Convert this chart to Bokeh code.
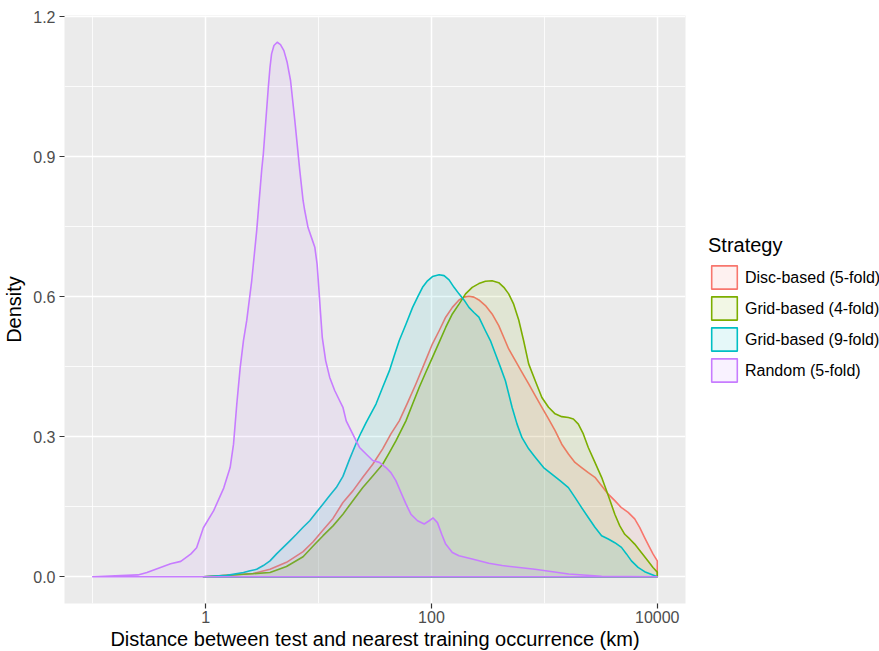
import numpy as np
from bokeh.plotting import figure
from bokeh.models import (Range1d, FixedTicker, PrintfTickFormatter, NumeralTickFormatter,
                          Legend, LegendItem)
from bokeh.embed import file_html
from bokeh.resources import INLINE

# ---- data (x = log10 of distance in km, y = density) ----
strategies = ["Disc-based (5-fold)", "Grid-based (4-fold)", "Grid-based (9-fold)", "Random (5-fold)"]
colors = ["#F8766D", "#7CAE00", "#00BFC4", "#C77CFF"]

disc_log10_km = [-0.02, 0.42, 0.57, 0.716, 0.863, 0.952, 1.04, 1.128, 1.216, 1.304, 1.392, 1.48, 1.568,
                 1.641, 1.715, 1.789, 1.862, 1.936, 2.009, 2.068, 2.126, 2.185, 2.244, 2.288, 2.332,
                 2.376, 2.42, 2.478, 2.537, 2.596, 2.64, 2.684, 2.743, 2.802, 2.861, 2.919, 2.978,
                 3.037, 3.095, 3.154, 3.213, 3.271, 3.33, 3.389, 3.448, 3.507, 3.566, 3.624, 3.683,
                 3.742, 3.80, 3.844, 3.888, 3.932, 3.962, 4.0]
disc_density = [0.0, 0.007, 0.016, 0.031, 0.054, 0.075, 0.100, 0.125, 0.159, 0.184, 0.213, 0.241, 0.274,
                0.306, 0.334, 0.373, 0.413, 0.456, 0.499, 0.527, 0.556, 0.577, 0.593, 0.599, 0.601,
                0.599, 0.593, 0.581, 0.563, 0.538, 0.513, 0.488, 0.463, 0.438, 0.413, 0.388, 0.363,
                0.338, 0.313, 0.284, 0.263, 0.245, 0.234, 0.223, 0.213, 0.195, 0.177, 0.163, 0.148,
                0.138, 0.124, 0.106, 0.084, 0.063, 0.049, 0.034]

grid4_log10_km = [-0.02, 0.57, 0.716, 0.863, 0.952, 1.04, 1.128, 1.216, 1.304, 1.392, 1.48, 1.568,
                  1.627, 1.685, 1.774, 1.833, 1.892, 1.95, 2.009, 2.068, 2.126, 2.185, 2.244, 2.302,
                  2.361, 2.42, 2.478, 2.537, 2.596, 2.641, 2.684, 2.728, 2.773, 2.817, 2.861, 2.919,
                  2.978, 3.037, 3.095, 3.154, 3.213, 3.257, 3.301, 3.345, 3.389, 3.448, 3.507, 3.566,
                  3.624, 3.668, 3.712, 3.756, 3.80, 3.859, 3.918, 3.962, 4.0]
grid4_density = [0.0, 0.009, 0.022, 0.043, 0.066, 0.088, 0.109, 0.134, 0.163, 0.191, 0.216, 0.241,
                 0.266, 0.291, 0.334, 0.370, 0.406, 0.438, 0.470, 0.502, 0.534, 0.563, 0.584, 0.606,
                 0.620, 0.628, 0.633, 0.634, 0.630, 0.620, 0.606, 0.584, 0.550, 0.505, 0.456, 0.420,
                 0.384, 0.363, 0.349, 0.343, 0.341, 0.338, 0.327, 0.306, 0.277, 0.245, 0.213, 0.174,
                 0.134, 0.109, 0.091, 0.081, 0.070, 0.052, 0.034, 0.020, 0.010]

grid9_log10_km = [-0.02, 0.188, 0.335, 0.394, 0.452, 0.511, 0.57, 0.628, 0.687, 0.746, 0.804, 0.863,
                  0.922, 0.981, 1.04, 1.099, 1.157, 1.216, 1.275, 1.333, 1.377, 1.421, 1.509, 1.568,
                  1.627, 1.671, 1.715, 1.774, 1.833, 1.877, 1.921, 1.965, 2.009, 2.068, 2.112, 2.156,
                  2.2, 2.244, 2.288, 2.332, 2.376, 2.42, 2.478, 2.522, 2.567, 2.611, 2.655, 2.714,
                  2.758, 2.802, 2.861, 2.919, 2.993, 3.066, 3.139, 3.213, 3.271, 3.33, 3.389, 3.448,
                  3.507, 3.566, 3.624, 3.683, 3.727, 3.771, 3.83, 3.888, 3.95, 4.0]
grid9_density = [0.0, 0.003, 0.009, 0.013, 0.016, 0.024, 0.034, 0.049, 0.063, 0.077, 0.091, 0.106,
                 0.120, 0.138, 0.156, 0.174, 0.191, 0.215, 0.252, 0.286, 0.309, 0.330, 0.370, 0.406,
                 0.441, 0.474, 0.506, 0.541, 0.577, 0.599, 0.620, 0.634, 0.643, 0.647, 0.645, 0.636,
                 0.620, 0.606, 0.593, 0.577, 0.566, 0.556, 0.527, 0.506, 0.477, 0.449, 0.420, 0.363,
                 0.327, 0.298, 0.274, 0.256, 0.234, 0.220, 0.206, 0.191, 0.170, 0.148, 0.127, 0.106,
                 0.088, 0.081, 0.073, 0.063, 0.049, 0.034, 0.020, 0.011, 0.005, 0.0]

random_log10_km = [-1.0, -0.6, -0.52, -0.4, -0.31, -0.22, -0.13, -0.08, -0.02, 0.07, 0.16, 0.217,
                   0.247, 0.276, 0.306, 0.335, 0.364, 0.408, 0.452, 0.496, 0.511, 0.555, 0.57, 0.584,
                   0.605, 0.634, 0.663, 0.693, 0.722, 0.752, 0.79, 0.834, 0.863, 0.878, 0.907, 0.937,
                   0.967, 0.987, 1.002, 1.016, 1.033, 1.063, 1.099, 1.143, 1.187, 1.216, 1.245, 1.333,
                   1.363, 1.421, 1.48, 1.539, 1.597, 1.641, 1.685, 1.729, 1.774, 1.818, 1.877, 1.936,
                   1.98, 2.015, 2.053, 2.091, 2.126, 2.185, 2.244, 2.361, 2.508, 2.626, 2.916, 3.216,
                   3.507, 4.0]
random_density = [0.0, 0.004, 0.009, 0.020, 0.028, 0.033, 0.049, 0.062, 0.105, 0.141, 0.190, 0.234,
                  0.284, 0.370, 0.448, 0.506, 0.549, 0.634, 0.741, 0.870, 0.906, 1.048, 1.091, 1.120,
                  1.138, 1.145, 1.140, 1.127, 1.102, 1.063, 0.977, 0.870, 0.806, 0.784, 0.748, 0.727,
                  0.706, 0.670, 0.620, 0.570, 0.513, 0.463, 0.427, 0.399, 0.377, 0.363, 0.334, 0.291,
                  0.277, 0.263, 0.249, 0.245, 0.234, 0.223, 0.206, 0.181, 0.156, 0.134, 0.120, 0.113,
                  0.120, 0.126, 0.116, 0.091, 0.070, 0.052, 0.045, 0.038, 0.029, 0.024, 0.016, 0.006,
                  0.001, 0.0]

series_x = [disc_log10_km, grid4_log10_km, grid9_log10_km, random_log10_km]
series_y = [disc_density, grid4_density, grid9_density, random_density]

x_ticks = [1, 100, 10000]
x_minor = [0.1, 10, 1000]
y_ticks = [0.0, 0.3, 0.6, 0.9, 1.2]
y_minor = [0.15, 0.45, 0.75, 1.05]

FONT = "Liberation Sans"

p = figure(frame_width=621, frame_height=588, x_axis_type="log",
           x_range=Range1d(10 ** -1.25, 10 ** 4.25), y_range=Range1d(-0.05725, 1.20225),
           output_backend="svg", toolbar_location=None,
           min_border_left=62, min_border_right=196, min_border_top=15, min_border_bottom=48)

p.background_fill_color = "#EBEBEB"
p.border_fill_color = "white"
p.outline_line_color = None

p.xaxis.ticker = FixedTicker(ticks=x_ticks, minor_ticks=x_minor)
p.yaxis.ticker = FixedTicker(ticks=y_ticks, minor_ticks=y_minor)
p.xaxis.formatter = NumeralTickFormatter(format="0")
p.yaxis.formatter = PrintfTickFormatter(format="%.1f")

for g in (p.xgrid, p.ygrid):
    g.grid_line_color = "white"
    g.grid_line_width = 1.5
    g.minor_grid_line_color = "white"
    g.minor_grid_line_width = 0.8

for ax in (p.xaxis, p.yaxis):
    ax.axis_line_color = None
    ax.major_tick_line_color = "#333333"
    ax.major_tick_line_width = 1.2
    ax.major_tick_out = 5
    ax.major_tick_in = 0
    ax.minor_tick_line_color = None
    ax.major_label_text_font = FONT
    ax.major_label_text_font_size = "16px"
    ax.major_label_text_color = "#4D4D4D"
    ax.axis_label_text_font = FONT
    ax.axis_label_text_font_size = "20px"
    ax.axis_label_text_font_style = "normal"
    ax.axis_label_text_color = "black"

p.xaxis.axis_label = "Distance between test and nearest training occurrence (km)"
p.yaxis.axis_label = "Density"
p.xaxis.major_label_standoff = 2
p.yaxis.major_label_standoff = 4
p.xaxis.axis_label_standoff = 2
p.yaxis.axis_label_standoff = 5

items = []
for name, col, lx, dy in zip(strategies, colors, series_x, series_y):
    km = 10 ** np.array(lx, dtype=float)
    dens = np.array(dy, dtype=float)
    xs = np.concatenate([km, [km[-1], km[0]]])
    ys = np.concatenate([dens, [0.0, 0.0]])
    r = p.patch(xs, ys, fill_color=col, fill_alpha=0.1, line_color=col, line_width=1.6,
                line_join="round")
    items.append(LegendItem(label=name, renderers=[r]))

legend = Legend(items=items, title="Strategy", location="center_left",
                glyph_width=32, glyph_height=29, spacing=2, padding=0, margin=23,
                label_text_font=FONT, label_text_font_size="16px", label_text_color="black",
                label_standoff=5, title_text_font=FONT, title_text_font_size="20px",
                title_text_font_style="normal", title_text_color="black", title_standoff=6,
                background_fill_alpha=0, border_line_color=None)
p.add_layout(legend, "right")

open("out.html", "w").write(file_html(p, INLINE))
